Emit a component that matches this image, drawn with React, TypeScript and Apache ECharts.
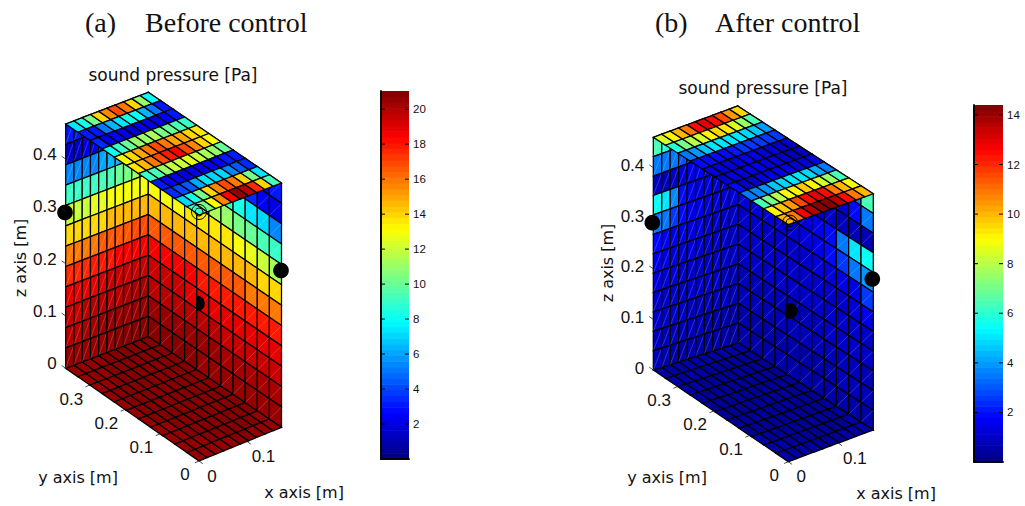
import React, { useEffect, useRef } from "react";
import * as echarts from "echarts";

// ---------- panel (a) readings, Pa ----------
const aCeiling = [
  [7.5, 8.5, 10.5, 14, 15.5, 17, 16, 14, 11, 8],
  [3, 3, 5, 6.5, 7.5, 8.5, 8, 6.5, 5, 3],
  [3.5, 2, 2.5, 2, 1.8, 2, 2, 2, 2.5, 3],
  [8, 9, 10, 11, 11, 11.5, 10.5, 10, 9.5, 9],
  [13, 14, 15, 16, 17, 16, 15, 15, 14, 13.5],
  [13.5, 14.5, 16, 17, 18, 18.5, 17, 15.5, 14, 13],
  [9, 9.5, 11, 12, 12, 12.5, 12, 11.5, 11, 10],
  [3, 2.5, 2.5, 2, 2, 2, 2.5, 2.5, 3, 3],
  [3.5, 4, 4.5, 6, 7.5, 7, 7, 5.5, 4.5, 3.5],
  [7, 8.5, 10.5, 14, 15.5, 17, 16, 14, 10.5, 7.5],
  [9, 10.5, 13, 15.5, 18.5, 20.5, 20, 17.5, 14, 9.5],
];
const aLeftWall = [
  [3, 3, 3, 2.5, 2.5, 2.5, 2.5, 2.5, 2.5, 2.5],
  [1.5, 1.5, 2, 2.2, 2.5, 2.5, 2.5, 3, 3, 3],
  [5.5, 5.5, 5.5, 5.5, 6, 6.5, 6.5, 7, 7, 7],
  [9, 9, 9, 9, 9.5, 9.5, 10, 10.5, 11, 11],
  [12, 12, 12, 12.5, 12.5, 13, 13, 13, 13, 13],
  [14, 14, 14, 14, 14, 14.5, 14.5, 14.5, 14.5, 14.5],
  [16, 16, 16, 16, 16.5, 16.5, 16.5, 16.5, 17, 17],
  [17.5, 17.5, 17.5, 18, 18, 18, 18.5, 18.5, 18.5, 18.5],
  [18.8, 18.8, 19, 19, 19.2, 19.4, 19.5, 19.5, 19.5, 19.5],
  [19.5, 19.6, 19.8, 19.8, 20, 20, 20, 20.2, 20.2, 20.2],
  [20, 20, 20.2, 20.3, 20.4, 20.4, 20.5, 20.6, 20.6, 20.6],
  [20.4, 20.5, 20.5, 20.6, 20.6, 20.7, 20.8, 20.8, 20.8, 20.8],
];
const aRightWall = [
  [3, 3, 3, 3, 3, 3, 3, 3, 3, 2.5, 3],
  [6, 6, 6, 6, 6, 6, 5.5, 4.5, 3.5, 2.5, 2],
  [8, 8, 9, 9, 9, 9, 9, 8.5, 7.5, 7, 5.5],
  [11, 11, 11, 11.5, 11.5, 11.5, 11, 10.5, 10, 9.5, 9],
  [13, 13, 13, 13.5, 13.5, 13.5, 13.5, 13, 12.5, 12, 11.5],
  [14.5, 14.5, 14.5, 14.5, 14.5, 14.5, 14.5, 14.5, 14.5, 14, 14],
  [16.5, 16.5, 16.5, 16.5, 16.5, 16.5, 16.5, 16.5, 16, 16, 16],
  [18.5, 18.5, 18.5, 18.5, 18, 18, 18, 18, 18, 18, 18],
  [19.5, 19.5, 19.5, 19, 19, 19, 19, 19, 19, 19, 19],
  [20, 20, 20, 20, 20, 20, 19.5, 19.5, 19.5, 19.5, 19.5],
  [20.5, 20.5, 20.5, 20.4, 20.4, 20.4, 20.3, 20.2, 20.2, 20.2, 20.2],
  [20.8, 20.8, 20.8, 20.8, 20.7, 20.7, 20.6, 20.6, 20.6, 20.5, 20.5],
];
const aFloor = [
  [20.6, 20.6, 20.7, 20.7, 20.8, 20.8, 20.8, 20.8, 20.8, 20.9],
  [20.6, 20.7, 20.7, 20.8, 20.8, 20.8, 20.8, 20.9, 20.9, 20.9],
  [20.7, 20.7, 20.8, 20.8, 20.8, 20.9, 20.9, 20.9, 20.9, 20.9],
  [20.7, 20.8, 20.8, 20.8, 20.9, 20.9, 20.9, 20.9, 20.9, 20.9],
  [20.7, 20.8, 20.8, 20.9, 20.9, 20.9, 20.9, 20.9, 20.9, 20.9],
  [20.7, 20.8, 20.8, 20.9, 20.9, 20.9, 21, 21, 20.9, 20.9],
  [20.7, 20.8, 20.8, 20.9, 20.9, 21, 21, 21, 20.9, 20.9],
  [20.7, 20.7, 20.8, 20.9, 20.9, 20.9, 21, 20.9, 20.9, 20.8],
  [20.6, 20.7, 20.8, 20.8, 20.9, 20.9, 20.9, 20.9, 20.8, 20.8],
  [20.6, 20.7, 20.7, 20.8, 20.8, 20.8, 20.8, 20.8, 20.8, 20.7],
  [20.5, 20.6, 20.6, 20.7, 20.7, 20.8, 20.8, 20.7, 20.7, 20.6],
];

// ---------- panel (b) readings, Pa ----------
const bCeiling = [
  [8.5, 9, 10, 11, 12.5, 13, 12.5, 11.5, 10.5, 9.5],
  [6, 7, 8, 8.5, 9, 9.5, 9.3, 8.5, 7.5, 6.5],
  [3.5, 4, 4.5, 5, 5, 5, 5, 4.8, 4.5, 4],
  [1.8, 2, 2, 2, 2.2, 2.5, 2.5, 2.5, 2.5, 2.5],
  [1.3, 1.3, 1.3, 1.3, 1.5, 1.5, 1.3, 1.3, 1, 1],
  [1, 1.2, 1.3, 1.5, 1.5, 1.3, 1.2, 1, 0.8, 0.8],
  [1.8, 1, 1, 1.3, 1.5, 1.5, 1.5, 1.3, 1.2, 1.5],
  [3.5, 3.8, 4, 4.5, 4.8, 5, 5, 4.8, 4.2, 3.5],
  [6.5, 7, 8, 8.8, 9.2, 9.8, 9.2, 8.5, 7.5, 6.5],
  [9, 9.8, 10.5, 11.5, 12.5, 13, 12.5, 11, 10, 8.8],
  [10, 11, 12.8, 13.5, 14.3, 14.3, 13.5, 12.5, 10.8, 10],
];
const bLeftWall = [
  [6.5, 6, 4, 3, 2.5, 2, 2, 2, 2, 2],
  [3.5, 3.5, 3.5, 3, 2.5, 1.5, 1.5, 1.5, 1.5, 1.5],
  [0.8, 0.8, 1, 1.2, 1.5, 1.7, 1.2, 1.2, 1.2, 1.2],
  [5.5, 5, 3.8, 2, 1.5, 1.3, 1.5, 1.2, 1.2, 1.2],
  [3.5, 3.5, 2.5, 2, 1.5, 1.5, 1.2, 1.2, 1.2, 1.2],
  [1.8, 1.6, 1.5, 1.4, 1.3, 1.2, 1.1, 1.1, 1.1, 1.1],
  [1.5, 1.4, 1.3, 1.2, 1.2, 1.1, 1.1, 1, 1, 1],
  [1.3, 1.2, 1.2, 1.1, 1.1, 1, 1, 1, 0.9, 0.9],
  [1.1, 1.1, 1, 1, 1, 0.9, 0.9, 0.9, 0.8, 0.8],
  [1, 0.9, 0.9, 0.9, 0.8, 0.8, 0.8, 0.7, 0.7, 0.7],
  [0.8, 0.8, 0.8, 0.7, 0.7, 0.7, 0.6, 0.6, 0.6, 0.6],
  [0.7, 0.7, 0.6, 0.6, 0.6, 0.6, 0.5, 0.5, 0.5, 0.5],
];
const bRightWall = [
  [1.2, 1.2, 1.2, 1.2, 1.2, 1.2, 1.5, 2, 2.5, 3.5, 6.5],
  [1.2, 1.2, 1.2, 1.2, 1.2, 1.2, 1.2, 1, 1, 2, 3.5],
  [1.2, 1.2, 1.2, 1.2, 1.2, 1.2, 1, 1, 0.8, 0.8, 0.8],
  [1.2, 1.2, 1.2, 1.2, 1.2, 1.2, 1.5, 2, 3.5, 5, 5.5],
  [1.2, 1.2, 1.2, 1.2, 1.2, 1.2, 1.5, 1.8, 2.5, 3.5, 4],
  [1, 1, 1, 1, 1.1, 1.1, 1.2, 1.2, 1.5, 1.5, 2.5],
  [1, 1, 1, 1, 1, 1, 1, 1, 1.1, 1.2, 1.5],
  [0.9, 0.9, 0.9, 0.9, 0.9, 0.9, 0.9, 1, 1, 1, 1.1],
  [0.8, 0.8, 0.8, 0.8, 0.8, 0.8, 0.8, 0.9, 0.9, 0.9, 0.9],
  [0.7, 0.7, 0.7, 0.7, 0.7, 0.7, 0.7, 0.7, 0.8, 0.8, 0.8],
  [0.6, 0.6, 0.6, 0.6, 0.6, 0.6, 0.6, 0.6, 0.7, 0.7, 0.7],
  [0.5, 0.5, 0.5, 0.5, 0.5, 0.5, 0.5, 0.5, 0.6, 0.6, 0.6],
];
const bFloor = [
  [0.5, 0.5, 0.5, 0.5, 0.5, 0.5, 0.5, 0.5, 0.5, 0.5],
  [0.5, 0.5, 0.5, 0.5, 0.4, 0.4, 0.4, 0.4, 0.4, 0.4],
  [0.5, 0.5, 0.4, 0.4, 0.4, 0.4, 0.4, 0.4, 0.4, 0.4],
  [0.5, 0.4, 0.4, 0.4, 0.4, 0.4, 0.4, 0.4, 0.4, 0.4],
  [0.4, 0.4, 0.4, 0.4, 0.4, 0.3, 0.3, 0.3, 0.3, 0.4],
  [0.4, 0.4, 0.4, 0.4, 0.3, 0.3, 0.3, 0.3, 0.3, 0.4],
  [0.4, 0.4, 0.4, 0.3, 0.3, 0.3, 0.3, 0.3, 0.3, 0.4],
  [0.4, 0.4, 0.4, 0.4, 0.3, 0.3, 0.3, 0.3, 0.4, 0.4],
  [0.5, 0.4, 0.4, 0.4, 0.4, 0.3, 0.3, 0.4, 0.4, 0.4],
  [0.5, 0.5, 0.4, 0.4, 0.4, 0.4, 0.4, 0.4, 0.4, 0.5],
  [0.5, 0.5, 0.5, 0.5, 0.4, 0.4, 0.4, 0.5, 0.5, 0.5],
];

// ---------- axis ticks ----------
const xTicks = [0, 0.1];
const yTicks = [0, 0.1, 0.2, 0.3];
const zTicks = [0, 0.1, 0.2, 0.3, 0.4];
const aBarTicks = [2, 4, 6, 8, 10, 12, 14, 16, 18, 20];
const bBarTicks = [2, 4, 6, 8, 10, 12, 14];

const panels = [
  {
    name: "a",
    title: "(a)",
    subtitle: "Before control",
    titleX: 85,
    subX: 145,
    cmax: 21.04,
    barTicks: aBarTicks,
    faces: { floor: aFloor, left: aLeftWall, right: aRightWall, ceiling: aCeiling },
    bottom: { F: [199, 461], R: [281.5, 427.3], L: [65.7, 368.3], I: [148.3, 336.5] },
    top: { F: [199, 215], R: [281.5, 183], L: [65.7, 124], I: [148.3, 92.3] },
    span: [0.172, 0.38, 0.467],
    yShift: 0.03,
    zLabelDy: -4.5,
    headX: 173, headY: 75,
    zLabelX: 20, zLabelY: 258,
    xLabel: [304, 492.7], yLabel: [78, 477],
    dots: [[65, 212.5, -99], [281, 270.5, -99], [197, 303.5, 197]],
    rings: [199, 212],
    bar: { left: 381, top: 91, width: 28, height: 368 },
  },
  {
    name: "b",
    title: "(b)",
    subtitle: "After control",
    titleX: 655,
    subX: 715,
    cmax: 14.4,
    barTicks: bBarTicks,
    faces: { floor: bFloor, left: bLeftWall, right: bRightWall, ceiling: bCeiling },
    bottom: { F: [788.3, 461.7], R: [873.3, 430], L: [653.3, 370], I: [738.3, 342.7] },
    top: { F: [788.3, 224.6], R: [873.3, 193.8], L: [653.3, 137.3], I: [737.7, 106] },
    span: [0.17, 0.375, 0.46],
    yShift: 0.02,
    zLabelDy: -2,
    headX: 763, headY: 88,
    zLabelX: 607, zLabelY: 263,
    xLabel: [896, 493], yLabel: [667, 477.7],
    dots: [[652.3, 222.7, -99], [872.3, 279, -99], [790, 311, 785]],
    rings: [790, 222.7],
    bar: { left: 974, top: 105, width: 29, height: 357 },
  },
];

const SANS = "'DejaVu Sans', sans-serif";
const NUM = "'Liberation Sans', Arial, sans-serif";

function jet(t: number) {
  const l = Math.min(63, Math.max(0, Math.floor(t * 64)));
  const v = (l + 0.5) / 64;
  const f = (c: number) => Math.round(255 * Math.max(0, Math.min(1, 1.5 - Math.abs(4 * v - c))));
  return `rgb(${f(3)},${f(2)},${f(1)})`;
}

function project(p: any, u: number, v: number, w: number): [number, number] {
  const mix = (c: any) => {
    const a = c.F[0] * (1 - u) * (1 - v) + c.R[0] * u * (1 - v) + c.L[0] * (1 - u) * v + c.I[0] * u * v;
    const b = c.F[1] * (1 - u) * (1 - v) + c.R[1] * u * (1 - v) + c.L[1] * (1 - u) * v + c.I[1] * u * v;
    return [a, b];
  };
  const lo = mix(p.bottom);
  const hi = mix(p.top);
  return [lo[0] + (hi[0] - lo[0]) * w, lo[1] + (hi[1] - lo[1]) * w];
}

function cellCorners(face: string, r: number, c: number, nr: number, nc: number) {
  const a0 = c / nc, a1 = (c + 1) / nc, b0 = r / nr, b1 = (r + 1) / nr;
  // order: top-left, top-right, bottom-right, bottom-left
  if (face === "floor" || face === "ceiling") {
    const w = face === "floor" ? 0 : 1;
    return [[a0, 1 - b0, w], [a1, 1 - b0, w], [a1, 1 - b1, w], [a0, 1 - b1, w]];
  }
  if (face === "left") {
    return [[a0, 1, 1 - b0], [a1, 1, 1 - b0], [a1, 1, 1 - b1], [a0, 1, 1 - b1]];
  }
  return [[1, 1 - a0, 1 - b0], [1, 1 - a1, 1 - b0], [1, 1 - a1, 1 - b1], [1, 1 - a0, 1 - b1]];
}

function faceSeries(p: any) {
  const order = ["floor", "left", "right", "ceiling"];
  const data: any[] = [];
  order.forEach((f, fi) => {
    const g = p.faces[f];
    g.forEach((row: number[], r: number) =>
      row.forEach((val: number, c: number) => data.push([fi, r, c, val, g.length, row.length]))
    );
  });
  return {
    type: "custom",
    coordinateSystem: "cartesian2d",
    xAxisIndex: 0,
    yAxisIndex: 0,
    silent: true,
    clip: false,
    encode: { x: 1, y: 2 },
    data,
    renderItem: (_: any, api: any) => {
      const f = order[api.value(0)];
      const corners = cellCorners(f, api.value(1), api.value(2), api.value(4), api.value(5)).map((q: number[]) =>
        api.coord(project(p, q[0], q[1], q[2]))
      );
      const fill = jet(api.value(3) / p.cmax);
      const children: any[] = [
        { type: "polygon", shape: { points: corners }, style: { fill, stroke: "#000", lineWidth: 1.25 } },
      ];
      if (f === "left" || f === "right") {
        children.push({
          type: "line",
          shape: { x1: corners[3][0], y1: corners[3][1], x2: corners[1][0], y2: corners[1][1] },
          style: { stroke: "rgba(255,255,255,0.28)", lineWidth: 0.7 },
        });
      }
      return { type: "group", children };
    },
  };
}

function chordDisc(cx: number, cy: number, r: number, clipX: number) {
  const pts: number[][] = [];
  for (let i = 0; i < 48; i++) {
    const a = (i / 48) * 2 * Math.PI;
    pts.push([Math.max(clipX, cx + r * Math.cos(a)), cy + r * Math.sin(a)]);
  }
  return pts;
}

function overlays(p: any) {
  const els: any[] = [];
  const tickLine = (a: [number, number], b: [number, number]) => ({
    type: "line",
    silent: true,
    z: 5,
    shape: { x1: a[0], y1: a[1], x2: b[0], y2: b[1] },
    style: { stroke: "#222", lineWidth: 0.8 },
  });
  const label = (text: string, x: number, y: number, font: string, size: number, align = "center", rotation = 0) => ({
    type: "text",
    silent: true,
    z: 6,
    x,
    y,
    rotation,
    style: { text, x: 0, y: 0, fill: "#111", font: `${size}px ${font}`, align, verticalAlign: "middle" },
  });
  const [sx, sy, sz] = p.span;
  zTicks.forEach((t) => {
    const q = project(p, 0, 1, t / sz);
    els.push(tickLine(q, [q[0] - 4, q[1] - 2.8]));
    els.push(label(String(t), q[0] - 9, q[1] + p.zLabelDy, NUM, 17, "right"));
  });
  yTicks.forEach((t) => {
    const q = project(p, 0, t === 0 ? 0 : t / sy + p.yShift, 0);
    els.push(tickLine(q, [q[0] - 4.2, q[1] + 1.8]));
    els.push(label(String(t), q[0] + (t === 0 ? -14 : -18.5), q[1] + (t === 0 ? 13.5 : 14), NUM, 17));
  });
  xTicks.forEach((t) => {
    const q = project(p, t / sx, 0, 0);
    els.push(tickLine(q, [q[0] + 3.8, q[1] + 2.7]));
    els.push(label(String(t), q[0] + (t === 0 ? 13 : 16.5), q[1] + 15, NUM, 17));
  });
  els.push(label(p.title, p.titleX, 22, "'Liberation Serif', serif", 28, "left"));
  els.push(label(p.subtitle, p.subX, 22, "'Liberation Serif', serif", 28, "left"));
  els.push(label("sound pressure [Pa]", p.headX, p.headY, SANS, 17));
  els.push(label("x axis [m]", p.xLabel[0], p.xLabel[1], SANS, 16));
  els.push(label("y axis [m]", p.yLabel[0], p.yLabel[1], SANS, 16));
  els.push(label("z axis [m]", p.zLabelX, p.zLabelY, SANS, 16, "center", Math.PI / 2));
  p.dots.forEach((d: number[]) => {
    els.push({
      type: "polygon",
      silent: true,
      z: 4,
      shape: { points: chordDisc(d[0], d[1], 7.8, d[2]) },
      style: { fill: "#000" },
    });
  });
  [7.5, 4].forEach((r) =>
    els.push({
      type: "circle",
      silent: true,
      z: 4,
      shape: { cx: p.rings[0], cy: p.rings[1], r },
      style: { fill: "none", stroke: "#000", lineWidth: 1 },
    })
  );
  return els;
}

function barSeries(p: any, ax: number) {
  const levels = Array.from({ length: 64 }, (_, i) => i);
  return {
    type: "custom",
    coordinateSystem: "cartesian2d",
    xAxisIndex: ax,
    yAxisIndex: ax,
    silent: true,
    z: 1,
    data: levels.map((i) => [i]),
    renderItem: (_: any, api: any) => {
      const i = api.value(0);
      const a = api.coord([0, (i / 64) * p.cmax]);
      const b = api.coord([1, ((i + 1) / 64) * p.cmax]);
      return {
        type: "rect",
        shape: { x: a[0], y: b[1], width: b[0] - a[0], height: a[1] - b[1] + 0.6 },
        style: { fill: jet((i + 0.5) / 64) },
      };
    },
  };
}

function barTickSeries(p: any, ax: number) {
  return {
    type: "custom",
    coordinateSystem: "cartesian2d",
    xAxisIndex: ax,
    yAxisIndex: ax,
    silent: true,
    z: 3,
    data: p.barTicks.map((t: number) => [0, t]),
    renderItem: (_: any, api: any) => {
      const a = api.coord([0, api.value(1)]);
      const b = api.coord([1, api.value(1)]);
      const stroke = { stroke: "#000", lineWidth: 1 };
      return {
        type: "group",
        children: [
          { type: "line", shape: { x1: a[0], y1: a[1], x2: a[0] + 4, y2: a[1] }, style: stroke },
          { type: "line", shape: { x1: b[0] - 4, y1: b[1], x2: b[0], y2: b[1] }, style: stroke },
        ],
      };
    },
  };
}

export default function App() {
  const ref = useRef<HTMLDivElement>(null);
  useEffect(() => {
    document.body.style.margin = "0";
    const chart = echarts.init(ref.current!, undefined, { renderer: "svg" });
    const grids: any[] = [{ left: 0, top: 0, width: 1025, height: 506, show: false }];
    const xAxes: any[] = [{ type: "value", gridIndex: 0, min: 0, max: 1025, show: false }];
    const yAxes: any[] = [{ type: "value", gridIndex: 0, min: 0, max: 506, inverse: true, show: false }];
    const series: any[] = [];
    panels.forEach((p) => series.push(faceSeries(p)));
    const line = { show: true, lineStyle: { color: "#000", width: 1.6 } };
    panels.forEach((p, n) => {
      const g = n + 1;
      grids.push({ ...p.bar, show: false });
      xAxes.push({ type: "value", gridIndex: g, min: 0, max: 1, position: "bottom", z: 5, axisLine: line, axisTick: { show: false }, axisLabel: { show: false }, splitLine: { show: false } });
      yAxes.push({
        type: "value", gridIndex: g, min: 0, max: p.cmax, interval: 2, position: "right", z: 5,
        axisLine: line,
        axisTick: { show: false },
        axisLabel: { show: true, inside: false, margin: 4, fontSize: 11.5, color: "#111", fontFamily: NUM, showMinLabel: false, showMaxLabel: false },
        splitLine: { show: false },
      });
      series.push(barSeries(p, g));
      series.push(barTickSeries(p, g));
    });
    panels.forEach((p, n) => {
      const g = n + 1;
      xAxes.push({ type: "value", gridIndex: g, min: 0, max: 1, position: "top", z: 5, axisLine: line, axisTick: { show: false }, axisLabel: { show: false }, splitLine: { show: false } });
      yAxes.push({
        type: "value", gridIndex: g, min: 0, max: p.cmax, interval: 2, position: "left", z: 5,
        axisLine: line,
        axisTick: { show: false },
        axisLabel: { show: false }, splitLine: { show: false },
      });
    });
    chart.setOption({
      animation: false,
      backgroundColor: "#fff",
      grid: grids,
      xAxis: xAxes,
      yAxis: yAxes,
      series,
      graphic: { elements: panels.flatMap((p) => overlays(p)) },
    });
    return () => chart.dispose();
  }, []);
  return <div ref={ref} style={{ position: "fixed", left: 0, top: 0, width: 1025, height: 506 }} />;
}
